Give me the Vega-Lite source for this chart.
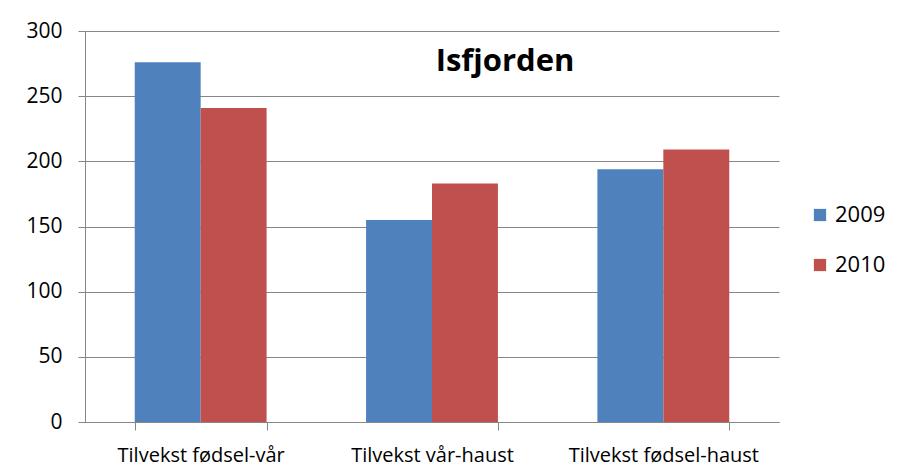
{
  "$schema": "https://vega.github.io/schema/vega-lite/v6.json",
  "autosize": {"type": "none"},
  "width": 694,
  "height": 391,
  "padding": {"left": 85, "top": 31, "right": 125, "bottom": 52},
  "background": "white",
  "config": {
    "view": {"stroke": null},
    "font": "Open Sans"
  },
  "title": {
    "text": "Isfjorden",
    "fontSize": 31,
    "fontWeight": "bold",
    "font": "Open Sans",
    "color": "#000000",
    "anchor": "middle",
    "dx": 73,
    "dy": 58,
    "offset": 0
  },
  "data": {
    "values": [
      {"kategori": "Tilvekst fødsel-vår", "år": "2009", "verdi": 276},
      {"kategori": "Tilvekst fødsel-vår", "år": "2010", "verdi": 241},
      {"kategori": "Tilvekst vår-haust", "år": "2009", "verdi": 155},
      {"kategori": "Tilvekst vår-haust", "år": "2010", "verdi": 183},
      {"kategori": "Tilvekst fødsel-haust", "år": "2009", "verdi": 194},
      {"kategori": "Tilvekst fødsel-haust", "år": "2010", "verdi": 209}
    ]
  },
  "mark": {"type": "bar"},
  "encoding": {
    "x": {
      "field": "kategori",
      "type": "nominal",
      "sort": null,
      "scale": {"paddingInner": 0.43, "paddingOuter": 0.215},
      "axis": {
        "title": null,
        "labelAngle": 0,
        "labelFontSize": 20,
        "labelLimit": 0,
        "labelColor": "#000000",
        "labelPadding": 15,
        "domainColor": "#868686",
        "tickColor": "#868686",
        "tickBand": "extent",
        "tickSize": 8,
        "labelFont": "Open Sans"
      }
    },
    "y": {
      "field": "verdi",
      "type": "quantitative",
      "scale": {"domain": [0, 300], "nice": false},
      "axis": {
        "title": null,
        "values": [0, 50, 100, 150, 200, 250, 300],
        "labelFontSize": 21,
        "labelColor": "#000000",
        "labelPadding": 16,
        "gridColor": "#868686",
        "domainColor": "#868686",
        "tickColor": "#868686",
        "tickSize": 7,
        "labelFont": "Open Sans"
      }
    },
    "xOffset": {"field": "år", "type": "nominal"},
    "color": {
      "field": "år",
      "type": "nominal",
      "scale": {"domain": ["2009", "2010"], "range": ["#4F81BD", "#C0504D"]},
      "legend": {
        "title": null,
        "orient": "none",
        "legendX": 724,
        "legendY": 173,
        "symbolType": "square",
        "symbolSize": 150,
        "symbolStrokeWidth": 0,
        "labelFontSize": 22,
        "labelColor": "#000000",
        "labelFont": "Open Sans",
        "rowPadding": 28,
        "labelOffset": 4
      }
    }
  }
}
